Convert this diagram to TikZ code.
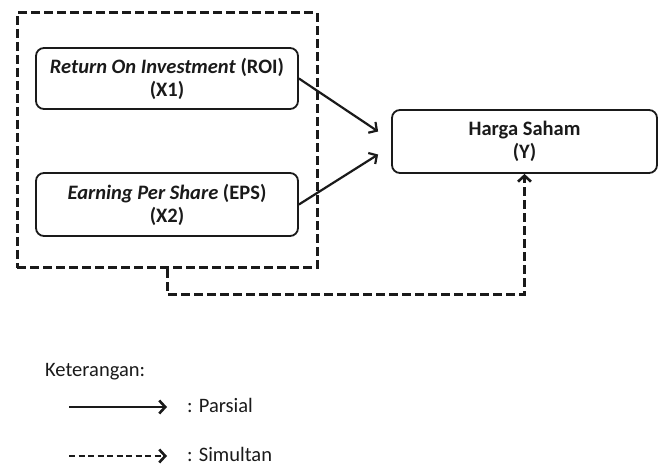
\documentclass[tikz,border=0pt]{standalone}
\usepackage{fontspec}
\setmainfont{Carlito}
\usetikzlibrary{arrows.meta,positioning,calc}
\definecolor{ink}{HTML}{1A1A1A}
\tikzset{
  varbox/.style={draw=ink, line width=1.8pt, rounded corners=8pt, align=center,
    inner sep=0pt, font=\fontsize{20.5}{23}\selectfont\bfseries, text=ink},
  grpbox/.style={draw=ink, line width=3pt, dash pattern=on 9pt off 4pt, inner sep=0pt},
  parsial/.style={draw=ink, line width=2.2pt, -{Straight Barb[length=6pt,width=13pt,line width=2.2pt]}},
  simultan/.style={draw=ink, line width=3pt, dash pattern=on 9pt off 4pt,
    -{Straight Barb[length=6pt,width=13pt,line width=2.6pt]}},
  legtext/.style={font=\fontsize{20.5}{23}\selectfont, text=ink, inner sep=0pt, anchor=base west}
}
\begin{document}
\begin{tikzpicture}[x=1pt,y=-1pt]
\useasboundingbox (0,0) rectangle (662,465);
\node[grpbox, minimum width=300pt, minimum height=255pt] (grp) at (167,140.5) {};
\node[varbox, minimum width=262pt, minimum height=61pt] (x1) at (167,78.5)
  {\textit{Return On Investment} (ROI)\\(X1)};
\node[varbox, minimum width=262pt, minimum height=63pt] (x2) at (167,204.5)
  {\textit{Earning Per Share} (EPS)\\(X2)};
\node[varbox, minimum width=265pt, minimum height=63pt] (y) at (524.5,141.5)
  {Harga Saham\\(Y)};
\draw[parsial] (x1.east) -- ($(y.west)+(-13,-10)$);
\draw[parsial] (x2.east) -- ($(y.west)+(-13,13)$);
\draw[simultan] (grp.south) -- ++(0,25) -| (y.south);
% legend
\node[legtext] (ket) at (45,377) {Keterangan:};
\coordinate (l1a) at (69,407);
\coordinate (l1b) at (167,407);
\coordinate (l2a) at (69,456);
\coordinate (l2b) at (167,456);
\draw[draw=ink, line width=2.6pt, -{Straight Barb[length=6pt,width=13pt,line width=2.6pt]}] (l1a) -- (l1b);
\draw[draw=ink, line width=2.6pt, dash pattern=on 6pt off 3.5pt, -{Straight Barb[length=6pt,width=13pt,line width=2.6pt]}] (l2a) -- (l2b);
\node[legtext] (p) at (187,413) {: Parsial};
\node[legtext] (s) at (187,461) {: Simultan};
\end{tikzpicture}
\end{document}
